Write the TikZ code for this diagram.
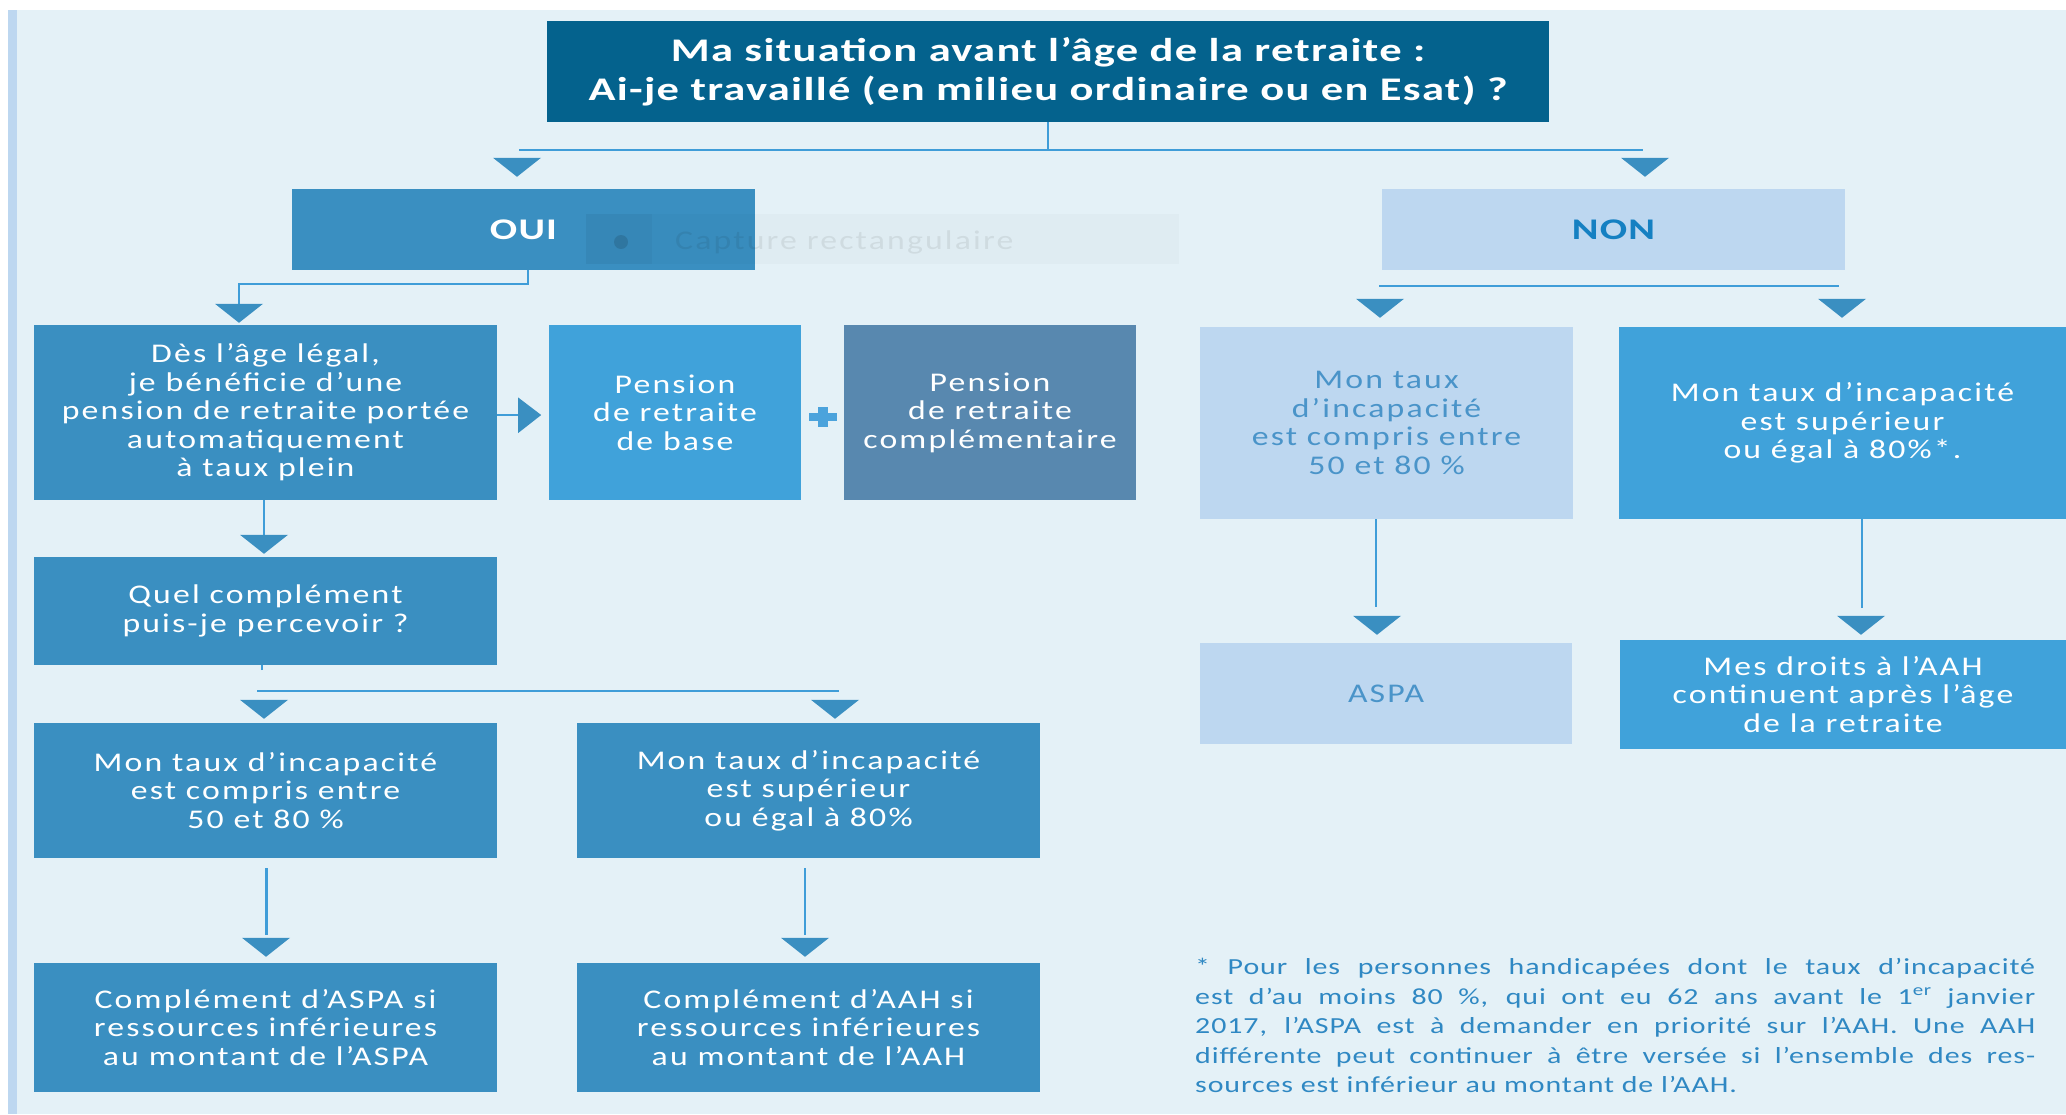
\documentclass[tikz,border=0pt]{standalone}
\usepackage{fontspec}
\setmainfont{Carlito}[FakeStretch=1.25,LetterSpace=8]
\newfontfamily\titlefont{Carlito}[FakeStretch=1.35,LetterSpace=4]
\newfontfamily\notefont{Carlito}[FakeStretch=1.3,LetterSpace=4]
\usetikzlibrary{calc}
\setlength{\parindent}{0pt}
\definecolor{bgc}{HTML}{E4F1F7}
\definecolor{stripc}{HTML}{BDD7F0}
\definecolor{titlec}{HTML}{04628D}
\definecolor{midc}{HTML}{3A8FC1}
\definecolor{brightc}{HTML}{40A2DA}
\definecolor{grayc}{HTML}{5888AF}
\definecolor{palec}{HTML}{BDD7F0}
\definecolor{linec}{HTML}{3F9DD8}
\definecolor{paletext}{HTML}{4A94C9}
\definecolor{nontext}{HTML}{1580C2}
\definecolor{notec}{HTML}{2F88C3}
\definecolor{plusc}{HTML}{4BA3DC}
\tikzset{
  box/.style={rectangle, inner sep=0pt, align=center, text=white, font={\fontsize{27}{28.5}\selectfont}},
  conn/.style={draw=linec, line width=2.5pt},
  trifill/.style={fill=midc},
}
\newcommand{\tridown}[1]{\fill[trifill] #1 ++(-24,-19) -- ++(48,0) -- ++(-24,19) -- cycle;}
\begin{document}
\begin{tikzpicture}[x=1pt,y=-1pt]
\useasboundingbox (0,0) rectangle (2066,1114);
\fill[white] (0,0) rectangle (2066,1114);
\fill[bgc] (16.5,10) rectangle (2066,1114);
\fill[stripc] (8,10) rectangle (16.5,1114);

% title
\node[box, fill=titlec, minimum width=1002, minimum height=101,
  font={\titlefont\bfseries\fontsize{33}{39}\selectfont}] (T) at (1048,71.5)
  {Ma situation avant l’âge de la retraite :\\Ai-je travaillé (en milieu ordinaire ou en Esat) ?};

% level 1
\node[box, fill=midc, minimum width=463, minimum height=81,
  font={\titlefont\bfseries\fontsize{30}{34}\selectfont}] (OUI) at (523.5,229.5) {OUI};
\node[box, fill=palec, text=nontext, minimum width=463, minimum height=81,
  font={\titlefont\bfseries\fontsize{30}{34}\selectfont}] (NON) at (1613.5,229.5) {NON};

% left branch
\node[box, fill=midc, minimum width=463, minimum height=175] (A) at (265.5,412.5)
  {Dès l’âge légal,\\je bénéficie d’une\\pension de retraite portée\\automatiquement\\à taux plein};
\node[box, fill=brightc, minimum width=252, minimum height=175] (B) at (675,412.5)
  {Pension\\de retraite\\de base};
\node[box, fill=grayc, minimum width=292, minimum height=175] (C) at (990,412.5)
  {Pension\\de retraite\\complémentaire};
\node[box, fill=midc, minimum width=463, minimum height=108] (Q) at (265.5,611)
  {Quel complément\\puis-je percevoir ?};
\node[box, fill=midc, minimum width=463, minimum height=135] (F) at (265.5,790.5)
  {Mon taux d’incapacité\\est compris entre\\50 et 80 \%};
\node[box, fill=midc, minimum width=463, minimum height=135] (G) at (808.5,790.5)
  {Mon taux d’incapacité\\est supérieur\\ou égal à 80\%};
\node[box, fill=midc, minimum width=463, minimum height=129] (H) at (265.5,1027.5)
  {Complément d’ASPA si\\ressources inférieures\\au montant de l’ASPA};
\node[box, fill=midc, minimum width=463, minimum height=129] (I) at (808.5,1027.5)
  {Complément d’AAH si\\ressources inférieures\\au montant de l’AAH};

% right branch
\node[box, fill=palec, text=paletext, minimum width=373, minimum height=192] (D) at (1386.5,423)
  {Mon taux\\d’incapacité\\est compris entre\\50 et 80 \%};
\node[box, fill=brightc, minimum width=447, minimum height=192] (E) at (1842.5,423)
  {Mon taux d’incapacité\\est supérieur\\ou égal à 80\%*.};
\node[box, fill=palec, text=paletext, minimum width=372, minimum height=101] (ASPA) at (1386,693.5)
  {ASPA};
\node[box, fill=brightc, minimum width=446, minimum height=109] (J) at (1843,694.5)
  {Mes droits à l’AAH\\continuent après l’âge\\de la retraite};

% watermark of the screen capture tool
\fill[black,opacity=0.02] (586,214) rectangle (1179,264);
\fill[black,opacity=0.03] (586,214) rectangle (652,264);
\fill[black,opacity=0.12] (621,242) circle (7);
\node[text=black, opacity=0.07, font={\fontsize{27}{30}\selectfont}, anchor=west, inner sep=0pt] (cap) at (675,242) {Capture rectangulaire};

% connectors: top
\coordinate (tbL) at (519,150);
\coordinate (tbR) at (1643,150);
\draw[conn] (T.south) -- (T.south |- tbL);
\draw[conn] (tbL) -- (tbR);
\tridown{($(OUI.north)+(-6.5,-12)$)}
\tridown{($(NON.north)+(31.5,-12)$)}

% OUI -> A
\draw[conn] ($(OUI.south)+(4.5,0)$) -- ++(0,14) -| ($(A.north)+(-26.5,-20)$);
\tridown{($(A.north)+(-26.5,-2)$)}

% A -> B (right arrow), plus sign
\draw[conn] ($(A.east)+(0,2.5)$) -- ($(A.east)+(21,2.5)$);
\fill[trifill] ($(A.east)+(21,-15)$) -- ($(A.east)+(44,2.5)$) -- ($(A.east)+(21,20.5)$) -- cycle;
\coordinate (plus) at ($(B.east)!0.5!(C.west)+(0,4)$);
\fill[plusc] ($(plus)+(-14,-4)$) rectangle ($(plus)+(14,4)$);
\fill[plusc] ($(plus)+(-5,-10)$) rectangle ($(plus)+(5,10)$);

% A -> Q
\draw[conn] ($(A.south)+(-1.5,0)$) -- ($(Q.north)+(-1.5,-21)$);
\tridown{($(Q.north)+(-1.5,-3)$)}

% Q -> F, G
\coordinate (qL) at (257,691);
\coordinate (qR) at (839,691);
\draw[conn] ($(Q.south)+(-3.5,5)$) -- ($(Q.south)+(-3.5,0)$ |- qL);
\draw[conn] (qL) -- (qR);
\tridown{($(F.north)+(-1.5,-4)$)}
\tridown{($(G.north)+(26.5,-4)$)}

% F -> H, G -> I
\draw[conn] ($(F.south)+(1,10)$) -- ($(H.north)+(1,-28)$);
\tridown{($(H.north)+(0.5,-6)$)}
\draw[conn] ($(G.south)+(-3.5,10)$) -- ($(I.north)+(-3.5,-28)$);
\tridown{($(I.north)+(-3.5,-6)$)}

% NON -> D, E
\coordinate (nL) at (1379,286);
\coordinate (nR) at (1839,286);
\draw[conn] ($(NON.south)+(8.5,0)$) -- ($(NON.south)+(8.5,0)$ |- nL);
\draw[conn] (nL) -- (nR);
\tridown{($(D.north)+(-6.5,-9)$)}
\tridown{($(E.north)+(-0.5,-9)$)}

% D -> ASPA, E -> J
\draw[conn] ($(D.south)+(-10.5,0)$) -- ($(ASPA.north)+(-10,-36)$);
\tridown{($(ASPA.north)+(-9,-8)$)}
\draw[conn] ($(E.south)+(19.5,0)$) -- ($(J.north)+(19,-32)$);
\tridown{($(J.north)+(18,-5)$)}

% footnote
\node[anchor=north west, text width=840, align=justify, inner sep=0pt, text=notec,
  font={\notefont\fontsize{23}{29.5}\selectfont}] (note) at (1195,958)
  {* Pour les personnes handicapées dont le taux d’incapacité\linebreak
   est d’au moins 80 \%, qui ont eu 62 ans avant le 1\textsuperscript{er} janvier\linebreak
   2017, l’ASPA est à demander en priorité sur l’AAH. Une AAH\linebreak
   différente peut continuer à être versée si l’ensemble des res-\linebreak
   sources est inférieur au montant de l’AAH.};
\end{tikzpicture}
\end{document}
